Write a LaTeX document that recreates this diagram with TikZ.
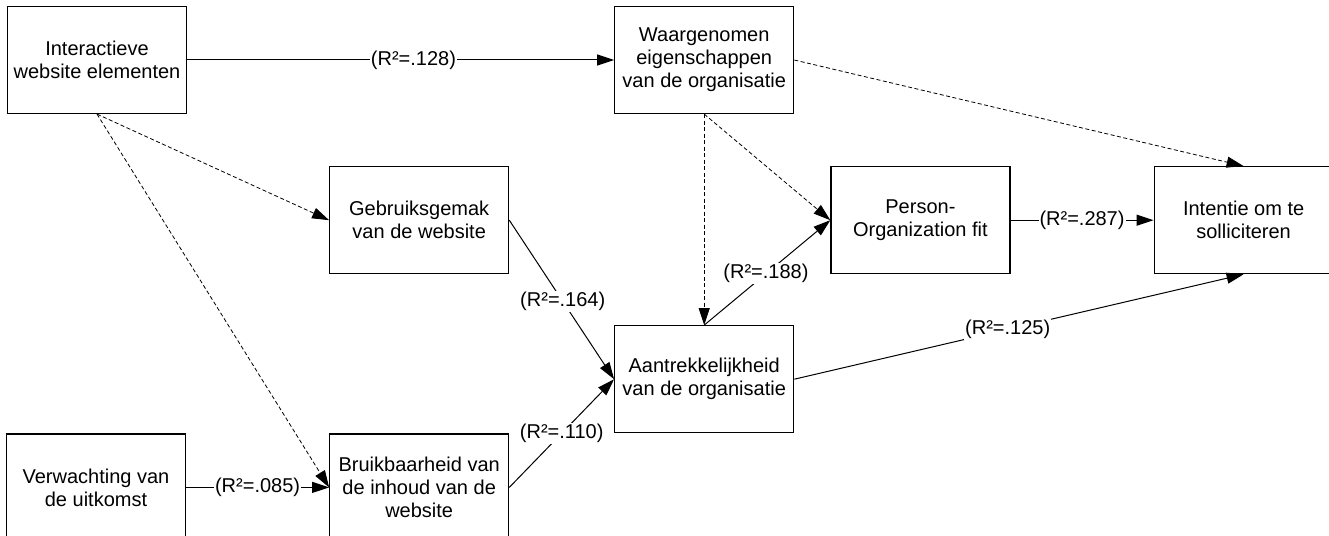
\documentclass[tikz,border=0pt]{standalone}
\usepackage{fontspec}
\setmainfont{Liberation Sans}
\usepackage{tikz}
\usetikzlibrary{arrows.meta,positioning}

\begin{document}
\begin{tikzpicture}[
    x=1pt, y=-1pt,
    box/.style={draw, line width=1.2pt, minimum width=179pt, minimum height=107pt, align=center, font=\fontsize{20}{23}\selectfont},
    arrow/.style={-{Triangle[length=17pt,width=11pt]}, line width=1pt},
    dasharrow/.style={arrow, line width=0.8pt, dash pattern=on 4pt off 2.5pt},
    rsq/.style={fill=white, inner sep=1pt, font=\fontsize{20}{23}\selectfont}
]
\useasboundingbox (0,0) rectangle (1329,535);
\node[box] (inter) at (97,60) {Interactieve\\website elementen};
\node[box, right=427pt of inter] (waar) {Waargenomen\\eigenschappen\\van de organisatie};
\node[box, below right=52pt and 142pt of inter] (gebr) {Gebruiksgemak\\van de website};
\node[box, right=321pt of gebr] (pofit) {Person-\\Organization fit};
\node[box, right=143pt of pofit] (intentie) {Intentie om te\\solliciteren};
\node[box, below=211pt of waar] (aantr) {Aantrekkelijkheid\\van de organisatie};
\node[box, below=159pt of gebr] (bruik) {Bruikbaarheid van\\de inhoud van de\\website};
\node[box, left=143pt of bruik] (verw) {Verwachting van\\de uitkomst};

\draw[arrow] (inter) -- node[rsq, pos=0.53]{(R²=.128)} (waar);
\draw[dasharrow] (inter.south) -- (gebr.west);
\draw[dasharrow] (inter.south) -- (bruik.west);
\draw[arrow] (verw) -- node[rsq]{(R²=.085)} (bruik);
\draw[arrow] (gebr.east) -- node[rsq, pos=0.51]{(R²=.164)} (aantr.west);
\draw[arrow] (bruik.east) -- node[rsq]{(R²=.110)} (aantr.west);
\draw[dasharrow] (waar.south) -- (aantr.north);
\draw[dasharrow] (waar.south) -- (pofit.west);
\draw[arrow] (aantr.north) -- node[rsq, pos=0.49]{(R²=.188)} (pofit.west);
\draw[dasharrow] (waar.east) -- (intentie.north);
\draw[arrow] (aantr.east) -- node[rsq, pos=0.475]{(R²=.125)} (intentie.south);
\draw[arrow] (pofit) -- node[rsq]{(R²=.287)} (intentie);
\end{tikzpicture}
\end{document}
